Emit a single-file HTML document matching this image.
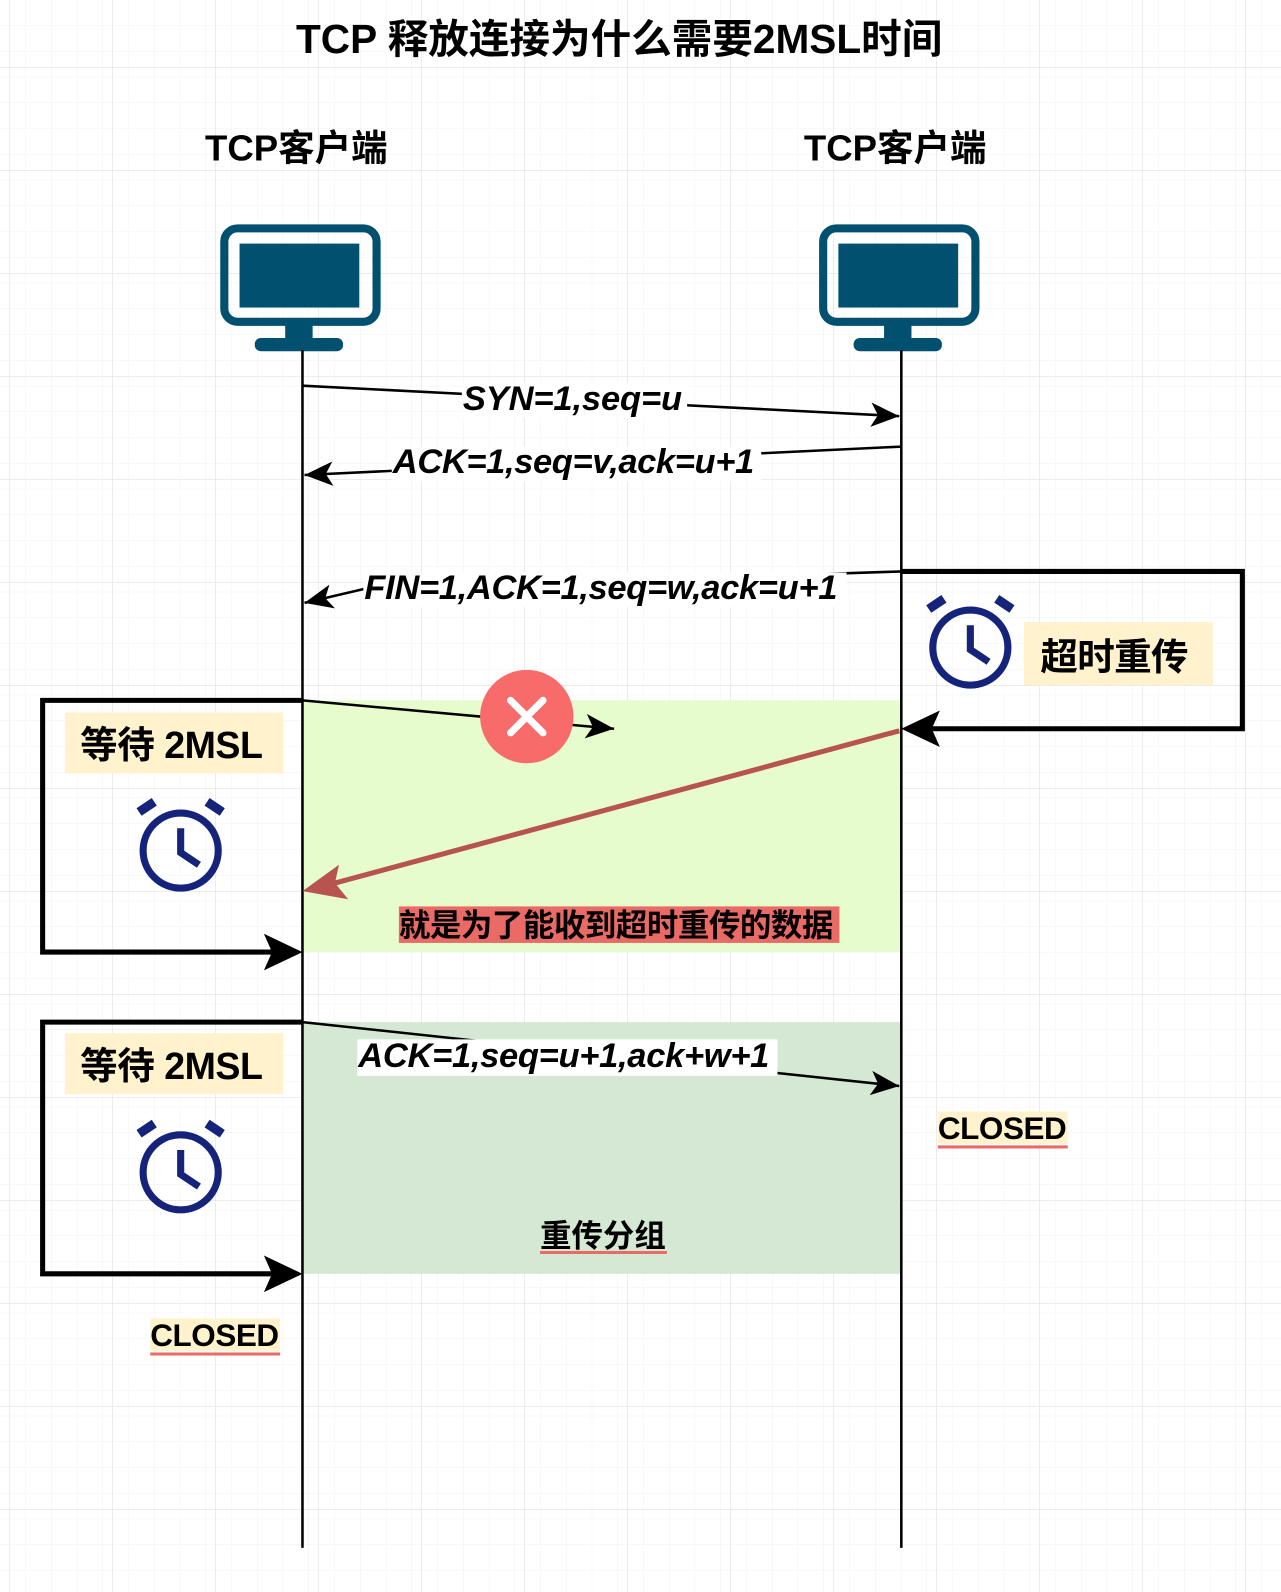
<!DOCTYPE html>
<html><head><meta charset="utf-8"><style>
html,body{margin:0;padding:0;background:#fff}
svg{display:block}
text{font-family:"Liberation Sans","Noto Sans CJK SC",sans-serif;font-weight:bold}
</style></head><body>
<svg width="1281" height="1592" viewBox="0 0 1281 1592" xmlns="http://www.w3.org/2000/svg">
<defs>
<pattern id="g" width="25.75" height="25.75" patternUnits="userSpaceOnUse"><path d="M25.75 0V25.75H0" fill="none" stroke="#f2f2f2" stroke-width="1"/></pattern>
<pattern id="G" width="103" height="103" patternUnits="userSpaceOnUse" x="10" y="-35"><path d="M103 0V103H0" fill="none" stroke="#e6e6e6" stroke-width="1.5"/></pattern>
<marker id="a" markerWidth="30" markerHeight="30" refX="28" refY="12" orient="auto" markerUnits="userSpaceOnUse" viewBox="0 0 30 24"><path d="M0,0 L28,12 L0,24 L7,12 Z" fill="#000"/></marker>
</defs>
<rect width="1281" height="1592" fill="url(#g)"/>
<rect width="1281" height="1592" fill="url(#G)"/>
<g transform="scale(1.015)">
<text x="610" y="52" font-size="40" text-anchor="middle">TCP 释放连接为什么需要2MSL时间</text>
<text x="292" y="158" font-size="36" text-anchor="middle">TCP客户端</text>
<text x="882" y="158" font-size="36" text-anchor="middle">TCP客户端</text>
<g fill="#02506f">
<rect x="221" y="225" width="150" height="92" rx="13" fill="none" stroke="#02506f" stroke-width="8"/>
<rect x="236" y="240" width="118" height="63"/>
<rect x="281" y="320" width="27" height="16"/>
<rect x="251" y="333" width="87" height="13" rx="6"/>
<rect x="811" y="225" width="150" height="92" rx="13" fill="none" stroke="#02506f" stroke-width="8"/>
<rect x="826" y="240" width="118" height="63"/>
<rect x="871" y="320" width="27" height="16"/>
<rect x="841" y="333" width="87" height="13" rx="6"/>
</g>
<rect x="298" y="690" width="590" height="248" fill="#e6fccc"/>
<rect x="298" y="1007" width="590" height="248" fill="#d5e8d4"/>
<line x1="298" y1="345" x2="298" y2="1525" stroke="#000" stroke-width="2.5"/>
<line x1="888" y1="345" x2="888" y2="1525" stroke="#000" stroke-width="2.5"/>
<path d="M298 380 L886 410" stroke="#000" stroke-width="2.5" fill="none" marker-end="url(#a)"/>
<path d="M888 440 L300 468" stroke="#000" stroke-width="2.5" fill="none" marker-end="url(#a)"/>
<path d="M888 563 L360 580 L300 594" stroke="#000" stroke-width="2.5" fill="none" marker-end="url(#a)"/>
<path d="M298 690 L605 718" stroke="#000" stroke-width="2.5" fill="none" marker-end="url(#a)"/>
<path d="M298 1007 L886 1070" stroke="#000" stroke-width="2.5" fill="none" marker-end="url(#a)"/>
<rect x="455" y="378" width="222" height="34" fill="#fff"/>
<text x="456" y="404" font-size="34" font-style="italic" textLength="216">SYN=1,seq=u</text>
<rect x="386" y="440" width="364" height="34" fill="#fff"/>
<text x="387" y="466" font-size="34" font-style="italic" textLength="356">ACK=1,seq=v,ack=u+1</text>
<rect x="358" y="564" width="476" height="34" fill="#fff"/>
<text x="359" y="590" font-size="34" font-style="italic" textLength="466">FIN=1,ACK=1,seq=w,ack=u+1</text>
<rect x="352" y="1024" width="414" height="36" fill="#fff"/>
<text x="353" y="1051" font-size="34" font-style="italic" textLength="405">ACK=1,seq=u+1,ack+w+1</text>
<circle cx="519" cy="706" r="46" fill="#f76b6b"/>
<path d="M503 690 L535 722 M535 690 L503 722" stroke="#fff" stroke-width="7" stroke-linecap="round"/>
<line x1="886" y1="720" x2="330" y2="870" stroke="#b85450" stroke-width="5"/>
<path d="M298 878 L334 852 L330 870 L343 886 Z" fill="#b85450"/>
<rect x="393" y="893" width="434" height="36" fill="#ea6b66"/>
<text x="393" y="922" font-size="31" textLength="428">就是为了能收到超时重传的数据</text>
<path d="M298 690 H42 V938 H270" fill="none" stroke="#000" stroke-width="5"/>
<path d="M298 938 L260 920 L268 938 L260 956 Z" fill="#000"/>
<path d="M298 1007 H42 V1255 H270" fill="none" stroke="#000" stroke-width="5"/>
<path d="M298 1255 L260 1237 L268 1255 L260 1273 Z" fill="#000"/>
<rect x="64" y="702" width="215" height="60" fill="#fff2cc"/>
<text x="79" y="747" font-size="37" textLength="180">等待 2MSL</text>
<rect x="64" y="1018" width="215" height="60" fill="#fff2cc"/>
<text x="79" y="1063" font-size="37" textLength="180">等待 2MSL</text>
<path d="M888 563 H1224 V718 H918" fill="none" stroke="#000" stroke-width="5"/>
<path d="M888 718 L926 700 L918 718 L926 736 Z" fill="#000"/>
<rect x="1009" y="613" width="186" height="62" fill="#fff2cc"/>
<text x="1025" y="660" font-size="37" textLength="146">超时重传</text>
<g fill="none" stroke="#15247a" stroke-width="7">
<circle cx="178" cy="838" r="37"/><path d="M178 816 V840 L196 852"/>
<path d="M137 800 L152 790 M219 800 L204 790" stroke-width="9"/>
<circle cx="178" cy="1155" r="37"/><path d="M178 1133 V1157 L196 1169"/>
<path d="M137 1117 L152 1107 M219 1117 L204 1107" stroke-width="9"/>
<circle cx="956" cy="638" r="37"/><path d="M956 616 V640 L974 652"/>
<path d="M915 600 L930 590 M997 600 L982 590" stroke-width="9"/>
</g>
<rect x="924" y="1095" width="128" height="32" fill="#fff2cc"/>
<line x1="924" y1="1130" x2="1052" y2="1130" stroke="#ea6b66" stroke-width="3"/>
<text x="924" y="1122" font-size="31" textLength="127">CLOSED</text>
<rect x="148" y="1299" width="128" height="32" fill="#fff2cc"/>
<line x1="148" y1="1334" x2="276" y2="1334" stroke="#ea6b66" stroke-width="3"/>
<text x="148" y="1326" font-size="31" textLength="127">CLOSED</text>
<line x1="532" y1="1234" x2="657" y2="1234" stroke="#ea6b66" stroke-width="3"/>
<text x="532" y="1228" font-size="31" textLength="124">重传分组</text>
</g>
</svg>
</body></html>
